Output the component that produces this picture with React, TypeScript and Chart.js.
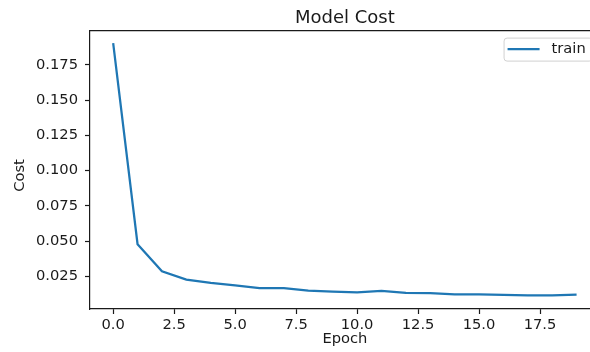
import React, { useEffect, useRef } from 'react';
import { Chart, registerables } from 'chart.js';

Chart.register(...registerables);

const epochs = [0, 1, 2, 3, 4, 5, 6, 7, 8, 9, 10, 11, 12, 13, 14, 15, 16, 17, 18, 19];
const trainCost = [
  0.1905, 0.0478, 0.0286, 0.0227, 0.0203, 0.0186, 0.0167, 0.0167, 0.0149, 0.0141,
  0.0136, 0.0146, 0.0132, 0.013, 0.0122, 0.0122, 0.0118, 0.0115, 0.0115, 0.012,
];
const xTicks = [0, 2.5, 5, 7.5, 10, 12.5, 15, 17.5];
const yTicks = [0.025, 0.05, 0.075, 0.1, 0.125, 0.15, 0.175];

const TITLE = 'Model Cost';
const X_LABEL = 'Epoch';
const Y_LABEL = 'Cost';
const SERIES_LABEL = 'train';

// full axes range (matplotlib 5% margins); the right part of the axes lies beyond the picture edge
const X_MIN = -0.95;
const X_FULL_MAX = 19.95;
const X_VISIBLE_MAX = 19.55;

const FONT = '"DejaVu Sans", "Liberation Sans", sans-serif';
const INK = '#1a1a1a';
const LINE = '#1f77b4';

const framePlugin = {
  id: 'frameAndLegend',
  afterDraw(chart: any) {
    const { ctx, chartArea: a } = chart;
    const xs = chart.scales.x;
    const fullRight = xs.getPixelForValue(X_FULL_MAX);
    const midX = (a.left + fullRight) / 2;
    ctx.save();
    // the real right spine lies outside the picture: keep the visible edge clean
    ctx.fillStyle = '#fff';
    ctx.fillRect(a.right - 3, a.top + 2, 4, a.bottom - a.top - 4);

    // top spine
    ctx.strokeStyle = INK;
    ctx.lineWidth = 1.2;
    ctx.beginPath();
    ctx.moveTo(a.left, a.top);
    ctx.lineTo(chart.width + 2, a.top);
    ctx.stroke();

    // title and axis labels
    ctx.fillStyle = INK;
    ctx.textAlign = 'center';
    ctx.textBaseline = 'middle';
    ctx.font = `18px ${FONT}`;
    ctx.fillText(TITLE, midX, 18);
    ctx.font = `14.7px ${FONT}`;
    ctx.fillText(X_LABEL, midX, chart.height - 12.8);
    ctx.save();
    ctx.translate(20.5, 175.5);
    ctx.rotate(-Math.PI / 2);
    ctx.fillText(Y_LABEL, 0, 0);
    ctx.restore();

    // legend
    const ds = chart.data.datasets[0];
    ctx.font = `14.7px ${FONT}`;
    const tw = ctx.measureText(ds.label).width;
    const right = fullRight - 8;
    const top = a.top + 7;
    const h = 23;
    const w = 4 + 32 + 12 + tw + 6;
    const left = right - w;
    ctx.beginPath();
    (ctx as any).roundRect(left + 0.5, top + 0.5, w, h, 3);
    ctx.fillStyle = 'rgba(255,255,255,0.8)';
    ctx.fill();
    ctx.strokeStyle = 'rgba(204,204,204,0.9)';
    ctx.lineWidth = 1;
    ctx.stroke();
    const cy = top + h / 2;
    ctx.beginPath();
    ctx.moveTo(left + 4, cy);
    ctx.lineTo(left + 36, cy);
    ctx.strokeStyle = ds.borderColor;
    ctx.lineWidth = 2.25;
    ctx.stroke();
    ctx.fillStyle = INK;
    ctx.textAlign = 'left';
    ctx.textBaseline = 'middle';
    ctx.fillText(ds.label, left + 48, cy);
    ctx.restore();
  },
};

export default function App() {
  const ref = useRef<HTMLCanvasElement | null>(null);

  useEffect(() => {
    if (!ref.current) return;
    const chart = new Chart(ref.current, {
      type: 'line',
      data: {
        datasets: [
          {
            label: SERIES_LABEL,
            data: epochs.map((e, i) => ({ x: e, y: trainCost[i] })),
            borderColor: LINE,
            backgroundColor: LINE,
            borderWidth: 2.25,
            pointRadius: 0,
            tension: 0,
            fill: false,
          },
        ],
      },
      options: {
        animation: false,
        responsive: false,
        devicePixelRatio: 1,
        layout: { padding: { left: 0, right: 0, top: 30.6, bottom: 0 } },
        plugins: {
          legend: { display: false },
          tooltip: { enabled: false },
          title: { display: false },
        },
        scales: {
          x: {
            type: 'linear',
            min: X_MIN,
            max: X_VISIBLE_MAX,
            afterBuildTicks: (s: any) => {
              s.ticks = xTicks.map((v) => ({ value: v }));
            },
            afterFit: (s: any) => {
              s.height = 43;
            },
            ticks: {
              autoSkip: false,
              maxRotation: 0,
              color: INK,
              padding: 2,
              font: { family: FONT, size: 14.7 },
              callback: (v: any) => Number(v).toFixed(1),
            },
            grid: {
              display: true,
              drawOnChartArea: false,
              drawTicks: true,
              tickLength: 5,
              tickColor: INK,
              tickWidth: 1.2,
            },
            border: { display: true, color: INK, width: 1.2 },
            title: { display: false },
          },
          y: {
            type: 'linear',
            min: 0.0018,
            max: 0.1994,
            afterBuildTicks: (s: any) => {
              s.ticks = yTicks.map((v) => ({ value: v }));
            },
            afterFit: (s: any) => {
              s.width = 90;
            },
            ticks: {
              color: INK,
              padding: 7,
              font: { family: FONT, size: 14.7 },
              callback: (v: any) => Number(v).toFixed(3),
            },
            grid: {
              display: true,
              drawOnChartArea: false,
              drawTicks: true,
              tickLength: 5,
              tickColor: INK,
              tickWidth: 1.2,
            },
            border: { display: true, color: INK, width: 1.2 },
            title: { display: false },
          },
        },
      },
      plugins: [framePlugin],
    } as any);
    return () => chart.destroy();
  }, []);

  return (
    <div
      style={{
        position: 'absolute',
        left: 0,
        top: 0,
        width: 590,
        height: 352,
        overflow: 'hidden',
        background: '#fff',
      }}
    >
      <canvas ref={ref} width={590} height={352} style={{ display: 'block' }} />
    </div>
  );
}
